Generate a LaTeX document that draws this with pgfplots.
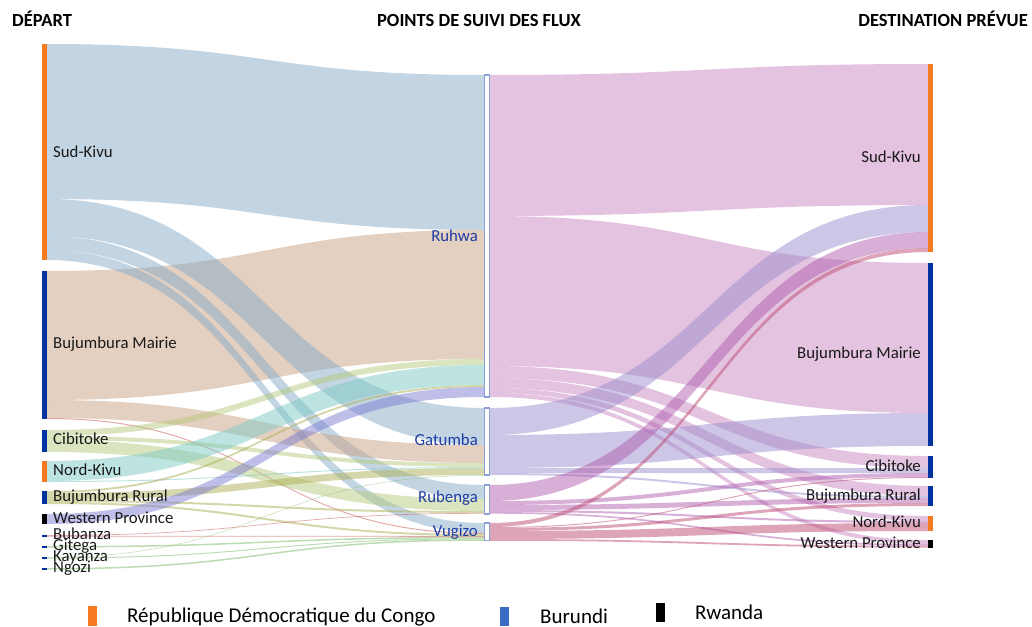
\documentclass[border=0pt]{standalone}
\usepackage{fontspec}
\setmainfont{Carlito}
\usepackage{pgfplots}
\pgfplotsset{compat=1.18}

\definecolor{cSK}{RGB}{135,171,199}
\definecolor{cBM}{RGB}{201,161,131}
\definecolor{cCI}{RGB}{181,201,125}
\definecolor{cNK}{RGB}{125,201,197}
\definecolor{cBR}{RGB}{171,175,85}
\definecolor{cWP}{RGB}{125,125,209}
\definecolor{cRed}{RGB}{200,80,80}
\definecolor{cGrn}{RGB}{125,185,105}
\definecolor{cRu}{RGB}{201,135,193}
\definecolor{cGa}{RGB}{155,141,205}
\definecolor{cRb}{RGB}{175,95,175}
\definecolor{cVu}{RGB}{189,75,115}
\definecolor{cOr}{RGB}{245,122,32}
\definecolor{cBl}{RGB}{0,51,160}
\definecolor{cLeg}{RGB}{58,107,196}
\definecolor{cMid}{RGB}{140,160,220}
\definecolor{cTxt}{RGB}{25,25,25}
\definecolor{cMidTxt}{RGB}{30,60,165}

\tikzset{
  lab/.style={font=\fontsize{16.8}{18}\selectfont, text=cTxt, inner sep=0pt},
  mlab/.style={font=\fontsize{16.8}{18}\selectfont, text=cMidTxt, inner sep=0pt},
  hdr/.style={font=\fontsize{18.5}{20}\selectfont\bfseries, text=black, inner sep=0pt},
  leg/.style={font=\fontsize{21}{23}\selectfont, text=black, inner sep=0pt}}

% flow: x0, y0 (top at source), x1, y1 (top at target), width, colour
\newcommand\flow[6]{%
  \pgfmathsetmacro\fya{#2+#5}%
  \pgfmathsetmacro\fyb{#4+#5}%
  \pgfmathsetmacro\fxm{(#1+#3)/2}%
  \edef\fcmd{\noexpand\fill[#6,fill opacity=0.5] (axis cs:#1,#2) .. controls (axis cs:\fxm,#2) and (axis cs:\fxm,#4) .. (axis cs:#3,#4) -- (axis cs:#3,\fyb) .. controls (axis cs:\fxm,\fyb) and (axis cs:\fxm,\fya) .. (axis cs:#1,\fya) -- cycle;}%
  \fcmd}

\begin{document}
\begin{tikzpicture}
\begin{axis}[scale only axis, width=1032pt, height=626pt,
  xmin=0, xmax=1032, ymin=0, ymax=626, y dir=reverse,
  hide axis, clip=false]

% ---- flows: departure -> tracking points
\flow{47}{44}{484}{75}{155}{cSK}
\flow{47}{271}{484}{230}{129}{cBM}
\flow{47}{199}{484}{408}{37}{cSK}
\flow{47}{236}{484}{485}{14}{cSK}
\flow{47}{250}{484}{523}{10}{cSK}
\flow{47}{400}{484}{445}{18}{cBM}
\flow{47}{418}{484}{533}{1}{cRed}
\flow{47}{430}{484}{359}{6}{cCI}
\flow{47}{436}{484}{463}{4}{cCI}
\flow{47}{440}{484}{499}{12}{cCI}
\flow{47}{461}{484}{365}{20}{cNK}
\flow{47}{481}{484}{467}{1}{cNK}
\flow{47}{491}{484}{385}{2}{cBR}
\flow{47}{493}{484}{468}{7}{cBR}
\flow{47}{500}{484}{511}{2}{cBR}
\flow{47}{502}{484}{534}{2}{cBR}
\flow{47}{514}{484}{387}{10}{cWP}
\flow{47}{535}{484}{513}{0.7}{cRed}
\flow{47}{535.7}{484}{536}{0.8}{cRed}
\flow{47}{546}{484}{536.8}{1.5}{cGrn}
\flow{47}{557}{484}{475}{0.5}{cGrn}
\flow{47}{557.5}{484}{538.3}{1}{cGrn}
\flow{47}{568}{484}{539.3}{1.5}{cGrn}

% ---- flows: tracking points -> planned destination
\flow{490}{75}{928}{64}{141}{cRu}
\flow{490}{216}{928}{263}{150}{cRu}
\flow{490}{366}{928}{456}{12}{cRu}
\flow{490}{378}{928}{486}{10}{cRu}
\flow{490}{388}{928}{516}{5}{cRu}
\flow{490}{393}{928}{540}{4}{cRu}
\flow{490}{408}{928}{205}{27}{cGa}
\flow{490}{435}{928}{413}{33}{cGa}
\flow{490}{468}{928}{468}{5}{cGa}
\flow{490}{473}{928}{496}{2}{cGa}
\flow{490}{485}{928}{232}{16}{cRb}
\flow{490}{501}{928}{473}{4}{cRb}
\flow{490}{505}{928}{498}{5}{cRb}
\flow{490}{510}{928}{521}{2}{cRb}
\flow{490}{512}{928}{544}{1.7}{cRb}
\flow{490}{523}{928}{248}{4}{cVu}
\flow{490}{527}{928}{477}{1}{cVu}
\flow{490}{528}{928}{503}{3}{cVu}
\flow{490}{531}{928}{523}{8}{cVu}
\flow{490}{539}{928}{545.7}{1.8}{cVu}

% ---- departure nodes
\fill[cOr] (axis cs:42,44) rectangle (axis cs:47,260);
\fill[cBl] (axis cs:42,271) rectangle (axis cs:47,419);
\fill[cBl] (axis cs:42,430) rectangle (axis cs:47,452);
\fill[cOr] (axis cs:42,461) rectangle (axis cs:47,482);
\fill[cBl] (axis cs:42,491) rectangle (axis cs:47,504);
\fill[black] (axis cs:42,514) rectangle (axis cs:47,524);
\fill[cBl] (axis cs:42,535) rectangle (axis cs:47,536.5);
\fill[cBl] (axis cs:42,546) rectangle (axis cs:47,547.5);
\fill[cBl] (axis cs:42,557) rectangle (axis cs:47,558.5);
\fill[cBl] (axis cs:42,568) rectangle (axis cs:47,569.5);

% ---- tracking nodes
\filldraw[fill=white, draw=cMid, line width=1.2pt] (axis cs:484.5,75) rectangle (axis cs:489.5,397);
\filldraw[fill=white, draw=cMid, line width=1.2pt] (axis cs:484.5,408) rectangle (axis cs:489.5,475);
\filldraw[fill=white, draw=cMid, line width=1.2pt] (axis cs:484.5,485) rectangle (axis cs:489.5,514);
\filldraw[fill=white, draw=cMid, line width=1.2pt] (axis cs:484.5,523) rectangle (axis cs:489.5,540.8);

% ---- destination nodes
\fill[cOr] (axis cs:928,64) rectangle (axis cs:933,252);
\fill[cBl] (axis cs:928,263) rectangle (axis cs:933,446);
\fill[cBl] (axis cs:928,456) rectangle (axis cs:933,478);
\fill[cBl] (axis cs:928,486) rectangle (axis cs:933,506);
\fill[cOr] (axis cs:928,516) rectangle (axis cs:933,531);
\fill[black] (axis cs:928,540) rectangle (axis cs:933,548);

% ---- labels
\node[lab, anchor=base west] at (axis cs:53,157) {Sud-Kivu};
\node[lab, anchor=base west] at (axis cs:53,348) {Bujumbura Mairie};
\node[lab, anchor=base west] at (axis cs:53,444) {Cibitoke};
\node[lab, anchor=base west] at (axis cs:53,475) {Nord-Kivu};
\node[lab, anchor=base west] at (axis cs:53,501) {Bujumbura Rural};
\node[lab, anchor=base west] at (axis cs:53,523) {Western Province};
\node[lab, anchor=base west] at (axis cs:53,539) {Bubanza};
\node[lab, anchor=base west] at (axis cs:53,550) {Gitega};
\node[lab, anchor=base west] at (axis cs:53,561) {Kayanza};
\node[lab, anchor=base west] at (axis cs:53,572) {Ngozi};

\node[mlab, anchor=base east] at (axis cs:478,241) {Ruhwa};
\node[mlab, anchor=base east] at (axis cs:478,445) {Gatumba};
\node[mlab, anchor=base east] at (axis cs:478,502) {Rubenga};
\node[mlab, anchor=base east] at (axis cs:478,536) {Vugizo};

\node[lab, anchor=base east] at (axis cs:921,162) {Sud-Kivu};
\node[lab, anchor=base east] at (axis cs:921,358) {Bujumbura Mairie};
\node[lab, anchor=base east] at (axis cs:921,471) {Cibitoke};
\node[lab, anchor=base east] at (axis cs:921,500) {Bujumbura Rural};
\node[lab, anchor=base east] at (axis cs:921,527) {Nord-Kivu};
\node[lab, anchor=base east] at (axis cs:921,548) {Western Province};

\node[hdr, anchor=base west] at (axis cs:12,27) {DÉPART};
\node[hdr, anchor=base] at (axis cs:479,27) {POINTS DE SUIVI DES FLUX};
\node[hdr, anchor=base east] at (axis cs:1028,27) {DESTINATION PRÉVUE};

% ---- legend
\fill[cOr] (axis cs:88,606) rectangle (axis cs:97,626);
\node[leg, anchor=base west] at (axis cs:127,622) {République Démocratique du Congo};
\fill[cLeg] (axis cs:500,607) rectangle (axis cs:509,626);
\node[leg, anchor=base west] at (axis cs:540,623) {Burundi};
\fill[black] (axis cs:656,603) rectangle (axis cs:665,622);
\node[leg, anchor=base west] at (axis cs:695,619) {Rwanda};
\end{axis}
\pgfresetboundingbox
\path (current axis.south west) rectangle (current axis.north east);
\end{tikzpicture}
\end{document}
